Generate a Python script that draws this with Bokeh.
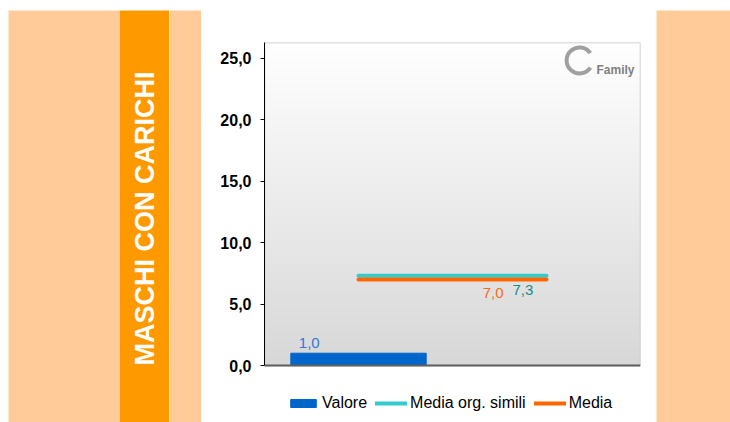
import math
import numpy as np
from bokeh.plotting import figure
from bokeh.models import Range1d, Legend, LegendItem, Label, FixedTicker
from bokeh.layouts import row, column
from bokeh.embed import file_html
from bokeh.resources import INLINE
from bokeh.core.properties import value

# ---- data ----
categories = [1, 2]
valore = [1.0]
media_org_simili = [7.3, 7.3]
media = [7.0, 7.0]
y_ticks = [0, 5, 10, 15, 20, 25]
y_tick_labels = ["0,0", "5,0", "10,0", "15,0", "20,0", "25,0"]
series_names = ["Valore", "Media org. simili", "Media"]
title_text = "MASCHI CON CARICHI"

PEACH = "#ffcc99"
ORANGE = "#ff9900"
BLUE = "#0066cc"
TEAL = "#33cccc"
ORANGE_LINE = "#ff6600"
FONT = "Liberation Sans"
H = 412


def fmt(v):
    return f"{v:.1f}".replace(".", ",")


def pad(w, color):
    f = figure(width=w, height=H, output_backend="svg", toolbar_location=None,
               x_axis_type=None, y_axis_type=None, min_border=0,
               x_range=Range1d(0, 1), y_range=Range1d(0, 1),
               background_fill_color=color, border_fill_color=color,
               outline_line_color=None)
    return f


left_pad = pad(111, PEACH)
title_fig = pad(50, ORANGE)
title_fig.add_layout(Label(x=0.5, y=0.5, text=title_text, angle=math.pi / 2,
                           text_align="center", text_baseline="middle",
                           y_offset=-2, text_color="white", text_font=FONT,
                           text_font_style="bold", text_font_size="27px"))
mid_pad = pad(32, PEACH)
right_pad = pad(74, PEACH)

# ---- chart ----
y_max = 26.3
px_per_unit = 323 / y_max          # plot area: 323 px tall
y_min = -57 / px_per_unit          # room below the axis for the legend
p = figure(width=455, height=H, output_backend="svg", toolbar_location=None,
           x_range=Range1d(0.5, 2.5), y_range=Range1d(y_min, y_max),
           min_border_left=63, min_border_right=16, min_border_top=32,
           min_border_bottom=0, background_fill_color="white",
           border_fill_color="white", outline_line_color=None)
p.grid.visible = False
p.xaxis.visible = False

# gradient plot-area background
n = 256
g = np.linspace(216, 255, n).astype(np.uint8)
rgba = np.zeros((n, 1, 4), dtype=np.uint8)
rgba[:, 0, 0] = g
rgba[:, 0, 1] = g
rgba[:, 0, 2] = g
rgba[:, 0, 3] = 255
img = rgba.view(np.uint32).reshape(n, 1)
p.image_rgba(image=[img], x=0.5, y=0, dw=2, dh=y_max)
p.quad(left=[0.5], right=[2.5], bottom=[0], top=[y_max], fill_color=None,
       line_color="#c4c4c4", line_width=1.5)

bar_w = 0.72
bar = p.vbar(x=categories[:1], top=valore, width=bar_w, color=BLUE)
l_org = p.line(x=categories, y=media_org_simili, line_color=TEAL, line_width=4,
               line_cap="round")
l_med = p.line(x=categories, y=media, line_color=ORANGE_LINE, line_width=4,
               line_cap="round")

p.segment(x0=[0.5], x1=[2.5], y0=[0], y1=[0], line_color="#5f5f5f", line_width=2)

# value labels
p.add_layout(Label(x=categories[0] - bar_w / 2, y=valore[0], text=fmt(valore[0]),
                   x_offset=8, y_offset=10, text_align="left",
                   text_baseline="alphabetic", text_color="#2f78d6",
                   text_font=FONT, text_font_size="15px"))
p.add_layout(Label(x=categories[1], y=media[1], text=fmt(media[1]),
                   x_offset=-43, y_offset=-13, text_align="right",
                   text_baseline="alphabetic", text_color="#ff6a1a",
                   text_font=FONT, text_font_size="15px"))
p.add_layout(Label(x=categories[1], y=media_org_simili[1], text=fmt(media_org_simili[1]),
                   x_offset=-34, y_offset=-14, text_align="left",
                   text_baseline="alphabetic", text_color="#1a8c8c",
                   text_font=FONT, text_font_size="15px"))

# logo
p.arc(x=[2.176], y=[24.84], radius=13, radius_units="screen",
      start_angle=0.6, end_angle=5.7, line_color="#a0a0a0", line_width=4)
p.text(x=[2.468], y=[24.1], text=["Family"], text_align="right",
       text_baseline="alphabetic", text_color="#808080",
       text_font=value(FONT), text_font_style="bold", text_font_size="12px")

# y axis
ya = p.yaxis[0]
ya.bounds = (0, y_max)
ya.ticker = FixedTicker(ticks=y_ticks)
ya.major_label_overrides = {t: lab for t, lab in zip(y_ticks, y_tick_labels)}
ya.major_label_text_font = FONT
ya.major_label_text_font_style = "bold"
ya.major_label_text_font_size = "16px"
ya.major_label_text_color = "black"
ya.major_label_standoff = 9
ya.major_tick_out = 4
ya.major_tick_in = 0
ya.minor_tick_line_color = None
ya.axis_line_color = "black"
ya.major_tick_line_color = "black"

legend = Legend(items=[LegendItem(label=series_names[0], renderers=[bar]),
                       LegendItem(label=series_names[1], renderers=[l_org]),
                       LegendItem(label=series_names[2], renderers=[l_med])],
                orientation="horizontal", location=(23, 10),
                border_line_color=None, background_fill_alpha=0,
                label_text_font=FONT, label_text_font_size="16px",
                label_text_color="black",
                glyph_width=32, glyph_height=10, spacing=8, label_standoff=3,
                padding=0, margin=0)
p.add_layout(legend, "center")

layout = row(column(left_pad), column(title_fig), column(mid_pad), p,
             column(right_pad), margin=(10, 0, 0, 8))

with open("out.html", "w") as f:
    f.write(file_html(layout, INLINE))
